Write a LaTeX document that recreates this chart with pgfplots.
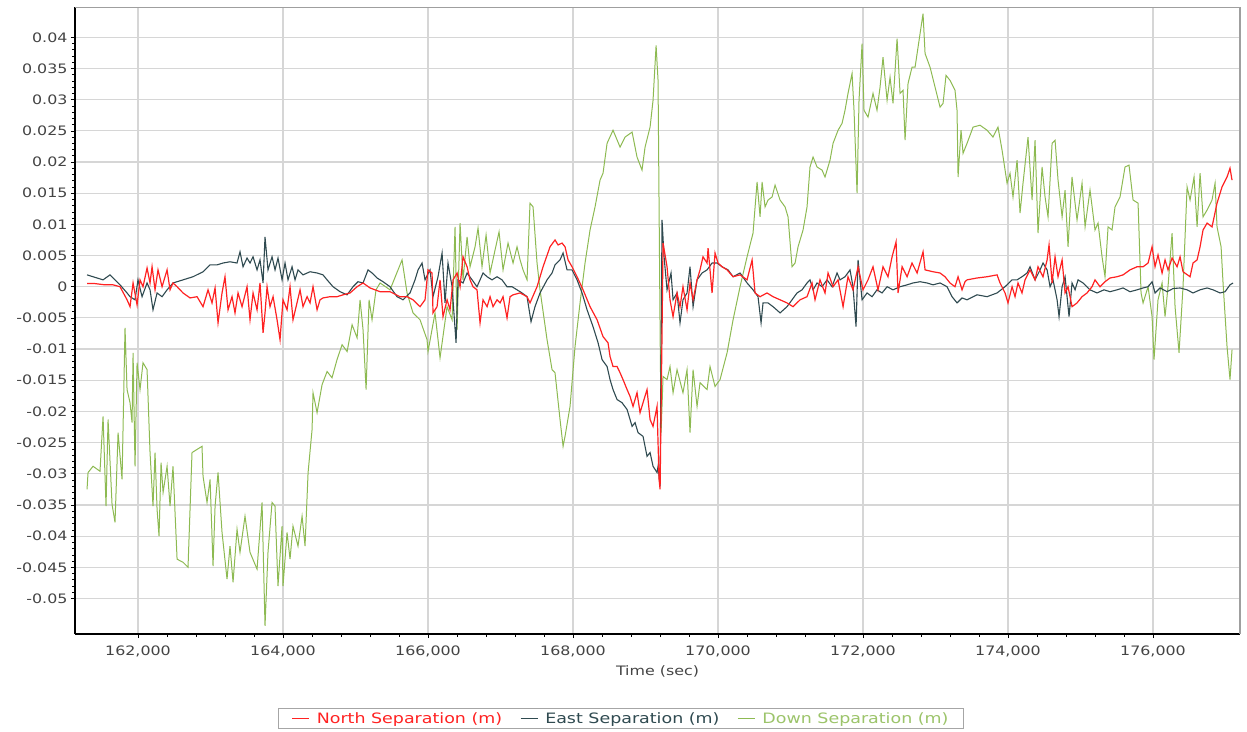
\documentclass[border=0pt]{standalone}
\usepackage{fontspec}
\setmainfont{DejaVu Sans}[FakeStretch=1.22]
\usepackage{pgfplots}
\pgfplotsset{compat=1.18}
\definecolor{northc}{HTML}{FF2222}
\definecolor{eastc}{HTML}{2F4A50}
\definecolor{downc}{HTML}{8DBA52}
\definecolor{downt}{HTML}{9CC46A}
\definecolor{labc}{HTML}{444444}
\definecolor{gridc}{HTML}{D6D6D6}
\begin{document}
\begin{tikzpicture}
\clip (-75pt,-97pt) rectangle (1172pt,634pt);
\begin{axis}[
  name=ax,
  at={(0pt,0pt)}, anchor=south west,
  scale only axis, width=1165pt, height=626.6pt,
  xmin=161131, xmax=177200, ymin=-0.0557, ymax=0.0448,
  axis x line*=bottom, axis y line*=left,
  axis line style={black, line width=2.2pt},
  xtick={162000,164000,166000,168000,170000,172000,174000,176000},
  xticklabels={{162,000},{164,000},{166,000},{168,000},{170,000},{172,000},{174,000},{176,000}},
  ytick={-0.05,-0.045,-0.04,-0.035,-0.03,-0.025,-0.02,-0.015,-0.01,-0.005,0,0.005,0.01,0.015,0.02,0.025,0.03,0.035,0.04},
  yticklabels={-0.05,-0.045,-0.04,-0.035,-0.03,-0.025,-0.02,-0.015,-0.01,-0.005,0,0.005,0.01,0.015,0.02,0.025,0.03,0.035,0.04},
  scaled x ticks=false, scaled y ticks=false,
  minor x tick num=4, minor y tick num=4,
  tick align=outside, major tick length=4pt, minor tick length=2.5pt,
  tick style={black, line width=0.6pt},
  grid=major, major grid style={draw=gridc, line width=1.2pt},
  tick label style={font=\fontsize{13}{15}\selectfont, text=labc},
  xticklabel style={yshift=-4pt},
  xlabel={Time (sec)},
  xlabel style={font=\fontsize{13}{15}\selectfont, text=labc, yshift=-2pt},
  reverse legend,
  legend columns=3,
  legend image code/.code={\draw[#1] (0pt,0pt) -- (17pt,0pt);},
  legend style={at={(0.4687,-0.1181)}, anchor=north, draw=gray!70, line width=0.8pt,
    font=\fontsize{14.3}{16}\selectfont, inner xsep=13pt, inner ysep=2pt,
    /tikz/every odd column/.append style={column sep=5pt},
    /tikz/every even column/.append style={column sep=16pt}},
]
\addplot[downc, line width=1pt] coordinates {
(161297,-0.0325)(161311,-0.0298)(161380,-0.0288)(161476,-0.0296)(161518,-0.0208)(161559,-0.0352)(161587,-0.0213)(161642,-0.0349)(161683,-0.0378)(161725,-0.0234)(161780,-0.0309)(161821,-0.0066)(161849,-0.0165)(161890,-0.0186)(161918,-0.0218)(161932,-0.0106)(161959,-0.0288)(161987,-0.0122)(162028,-0.0165)(162069,-0.0122)(162125,-0.0133)(162166,-0.0266)(162207,-0.0352)(162235,-0.0266)(162263,-0.0357)(162290,-0.0400)(162318,-0.0282)(162346,-0.0330)(162401,-0.0288)(162442,-0.0352)(162483,-0.0288)(162539,-0.0437)(162621,-0.0442)(162690,-0.0450)(162745,-0.0266)(162814,-0.0261)(162883,-0.0256)(162897,-0.0304)(162952,-0.0346)(162994,-0.0309)(163035,-0.0448)(163063,-0.0352)(163104,-0.0298)(163159,-0.0394)(163228,-0.0469)(163269,-0.0416)(163311,-0.0474)(163366,-0.0389)(163407,-0.0426)(163476,-0.0368)(163545,-0.0426)(163642,-0.0453)(163711,-0.0346)(163752,-0.0544)(163793,-0.0426)(163849,-0.0346)(163890,-0.0352)(163931,-0.0480)(163987,-0.0384)(164000,-0.0480)(164056,-0.0394)(164097,-0.0437)(164138,-0.0384)(164207,-0.0416)(164263,-0.0368)(164304,-0.0416)(164346,-0.0298)(164401,-0.0229)(164414,-0.0170)(164470,-0.0202)(164539,-0.0157)(164608,-0.0136)(164676,-0.0146)(164745,-0.0117)(164815,-0.0093)(164884,-0.0104)(164953,-0.0061)(165022,-0.0082)(165063,-0.0021)(165104,-0.0069)(165146,-0.0165)(165187,-0.0021)(165228,-0.0053)(165283,-0.0005)(165339,0.0006)(165476,-0.0005)(165642,0.0043)(165711,-0.0010)(165793,-0.0042)(165890,-0.0053)(165987,-0.0085)(166000,-0.0104)(166097,-0.0042)(166166,-0.0114)(166263,-0.0032)(166332,-0.0053)(166373,0.0096)(166401,-0.0069)(166442,0.0102)(166483,0.0011)(166539,0.0080)(166580,0.0032)(166649,0.0064)(166690,0.0094)(166745,0.0032)(166801,0.0083)(166856,0.0022)(166925,0.0059)(166980,0.0088)(167035,0.0027)(167104,0.0070)(167173,0.0038)(167228,0.0064)(167270,0.0043)(167311,0.0027)(167366,0.0011)(167407,0.0134)(167449,0.0128)(167504,0.0038)(167545,-0.0005)(167642,-0.0085)(167711,-0.0133)(167752,-0.0138)(167821,-0.0213)(167863,-0.0256)(167890,-0.0240)(167959,-0.0192)(168028,-0.0096)(168097,-0.0026)(168166,0.0038)(168235,0.0091)(168304,0.0128)(168373,0.0171)(168414,0.0182)(168470,0.0230)(168552,0.0251)(168649,0.0224)(168718,0.0240)(168815,0.0248)(168883,0.0208)(168952,0.0187)(168994,0.0224)(169063,0.0256)(169104,0.0299)(169146,0.0387)(169173,0.0331)(169201,-0.0069)(169215,-0.0234)(169242,-0.0144)(169297,-0.0149)(169338,-0.0128)(169380,-0.0170)(169435,-0.0133)(169517,-0.0170)(169573,-0.0133)(169614,-0.0234)(169656,-0.0133)(169711,-0.0192)(169752,-0.0154)(169849,-0.0165)(169890,-0.0128)(169959,-0.0160)(170028,-0.0149)(170125,-0.0106)(170208,-0.0053)(170304,0.0000)(170401,0.0048)(170483,0.0086)(170539,0.0168)(170580,0.0112)(170608,0.0168)(170649,0.0128)(170690,0.0139)(170746,0.0144)(170787,0.0163)(170856,0.0139)(170925,0.0128)(170966,0.0112)(171021,0.0032)(171063,0.0038)(171104,0.0064)(171173,0.0091)(171228,0.0128)(171269,0.0192)(171311,0.0208)(171366,0.0192)(171435,0.0187)(171476,0.0176)(171545,0.0203)(171587,0.0230)(171656,0.0251)(171711,0.0262)(171752,0.0283)(171793,0.0310)(171849,0.0342)(171876,0.0283)(171918,0.0150)(171945,0.0299)(171987,0.0390)(172014,0.0283)(172069,0.0272)(172138,0.0310)(172193,0.0283)(172235,0.0320)(172276,0.0368)(172332,0.0299)(172373,0.0336)(172414,0.0294)(172470,0.0398)(172511,0.0310)(172552,0.0315)(172580,0.0235)(172621,0.0326)(172676,0.0352)(172718,0.0352)(172759,0.0384)(172828,0.0438)(172856,0.0374)(172925,0.0352)(172994,0.0320)(173063,0.0288)(173104,0.0294)(173145,0.0339)(173200,0.0331)(173269,0.0315)(173297,0.0283)(173311,0.0176)(173352,0.0251)(173380,0.0214)(173435,0.0230)(173518,0.0256)(173614,0.0259)(173711,0.0251)(173793,0.0240)(173862,0.0256)(173918,0.0219)(173987,0.0166)(174028,0.0182)(174069,0.0144)(174125,0.0203)(174166,0.0118)(174207,0.0166)(174276,0.0240)(174332,0.0139)(174373,0.0235)(174414,0.0086)(174470,0.0192)(174511,0.0144)(174552,0.0112)(174608,0.0230)(174649,0.0235)(174690,0.0171)(174746,0.0112)(174787,0.0155)(174828,0.0064)(174883,0.0176)(174952,0.0107)(175021,0.0166)(175063,0.0096)(175131,0.0155)(175200,0.0091)(175242,0.0102)(175297,0.0048)(175338,0.0016)(175380,0.0096)(175435,0.0091)(175476,0.0128)(175545,0.0144)(175614,0.0192)(175669,0.0195)(175725,0.0139)(175794,0.0134)(175835,-0.0010)(175863,-0.0026)(175932,0.0000)(175987,-0.0048)(176014,-0.0117)(176069,-0.0021)(176125,0.0006)(176166,-0.0048)(176207,0.0000)(176263,0.0086)(176304,-0.0032)(176359,-0.0106)(176414,0.0000)(176470,0.0160)(176511,0.0139)(176566,0.0176)(176608,0.0096)(176649,0.0182)(176690,0.0112)(176746,0.0123)(176814,0.0139)(176856,0.0166)(176883,0.0096)(176939,0.0064)(176966,0.0006)(177021,-0.0096)(177062,-0.0149)(177090,-0.0101)
};
\addlegendentry{\textcolor{downt}{Down Separation (m)}}
\addplot[eastc, line width=1.1pt] coordinates {
(161297,0.0019)(161435,0.0014)(161518,0.0011)(161614,0.0019)(161656,0.0014)(161752,0.0003)(161849,-0.0010)(161890,-0.0016)(161959,-0.0021)(162000,0.0011)(162056,-0.0016)(162125,0.0006)(162166,-0.0005)(162207,-0.0037)(162263,-0.0010)(162332,-0.0016)(162401,-0.0005)(162483,0.0006)(162621,0.0011)(162759,0.0016)(162897,0.0024)(162994,0.0035)(163090,0.0035)(163173,0.0038)(163269,0.0040)(163366,0.0038)(163407,0.0056)(163449,0.0032)(163504,0.0046)(163545,0.0038)(163587,0.0048)(163642,0.0027)(163683,0.0043)(163725,0.0006)(163752,0.0080)(163793,0.0027)(163849,0.0048)(163890,0.0027)(163931,0.0046)(163987,0.0011)(164028,0.0038)(164069,0.0011)(164125,0.0032)(164166,0.0011)(164207,0.0027)(164276,0.0019)(164373,0.0024)(164470,0.0022)(164552,0.0019)(164608,0.0011)(164690,0.0000)(164787,-0.0008)(164884,-0.0013)(164966,0.0000)(165035,0.0008)(165104,0.0006)(165173,0.0027)(165228,0.0022)(165297,0.0014)(165380,0.0008)(165476,0.0000)(165573,-0.0016)(165656,-0.0021)(165752,-0.0010)(165821,0.0011)(165863,0.0027)(165918,0.0038)(165959,0.0011)(166028,0.0027)(166069,-0.0016)(166138,0.0016)(166194,0.0054)(166235,-0.0026)(166276,0.0038)(166332,0.0000)(166387,-0.0090)(166414,0.0011)(166483,0.0006)(166539,0.0022)(166608,0.0011)(166676,0.0000)(166718,0.0011)(166759,0.0022)(166815,0.0016)(166883,0.0011)(166952,0.0016)(167021,0.0011)(167090,0.0000)(167159,0.0000)(167228,-0.0005)(167297,-0.0010)(167366,-0.0016)(167421,-0.0056)(167476,-0.0032)(167545,-0.0010)(167642,0.0011)(167711,0.0022)(167752,0.0035)(167821,0.0043)(167863,0.0054)(167918,0.0027)(167987,0.0027)(168056,0.0011)(168125,-0.0010)(168194,-0.0037)(168276,-0.0064)(168346,-0.0090)(168401,-0.0117)(168470,-0.0128)(168511,-0.0149)(168552,-0.0165)(168608,-0.0181)(168676,-0.0186)(168746,-0.0197)(168815,-0.0224)(168856,-0.0218)(168897,-0.0234)(168966,-0.0240)(169021,-0.0272)(169063,-0.0266)(169104,-0.0288)(169159,-0.0298)(169173,-0.0288)(169201,-0.0320)(169228,0.0107)(169256,0.0048)(169297,-0.0005)(169352,0.0022)(169380,-0.0021)(169435,-0.0010)(169476,-0.0058)(169517,-0.0021)(169573,-0.0010)(169614,0.0032)(169656,-0.0032)(169711,0.0011)(169780,0.0022)(169849,0.0027)(169918,0.0038)(169987,0.0038)(170056,0.0032)(170139,0.0027)(170208,0.0016)(170304,0.0022)(170401,0.0006)(170483,-0.0005)(170552,-0.0016)(170594,-0.0058)(170621,-0.0026)(170690,-0.0026)(170759,-0.0032)(170856,-0.0042)(170952,-0.0032)(171021,-0.0021)(171090,-0.0010)(171159,-0.0005)(171228,0.0006)(171269,0.0011)(171311,-0.0005)(171366,0.0006)(171435,0.0000)(171504,0.0011)(171573,0.0000)(171642,0.0022)(171683,0.0011)(171752,0.0016)(171821,0.0027)(171862,0.0000)(171904,-0.0064)(171932,0.0043)(171987,-0.0021)(172056,-0.0010)(172125,-0.0016)(172193,-0.0005)(172263,-0.0010)(172332,0.0000)(172414,-0.0005)(172511,0.0000)(172608,0.0003)(172690,0.0006)(172787,0.0008)(172883,0.0006)(172966,0.0003)(173063,0.0006)(173159,0.0000)(173228,-0.0016)(173297,-0.0026)(173366,-0.0018)(173435,-0.0021)(173573,-0.0013)(173711,-0.0016)(173849,-0.0010)(173959,0.0000)(174056,0.0011)(174125,0.0011)(174193,0.0016)(174263,0.0022)(174304,0.0032)(174373,0.0011)(174442,0.0027)(174483,0.0038)(174539,0.0027)(174580,0.0000)(174621,0.0011)(174677,-0.0021)(174704,-0.0048)(174746,0.0000)(174787,0.0016)(174842,-0.0048)(174883,0.0006)(174925,-0.0005)(174966,0.0011)(175035,0.0006)(175131,-0.0005)(175228,-0.0010)(175324,-0.0005)(175407,-0.0008)(175504,-0.0005)(175587,-0.0002)(175683,-0.0008)(175780,-0.0005)(175863,-0.0002)(175932,0.0000)(175987,0.0008)(176028,-0.0010)(176097,-0.0002)(176194,-0.0008)(176276,-0.0003)(176373,-0.0002)(176470,-0.0005)(176552,-0.0010)(176649,-0.0005)(176746,-0.0002)(176828,-0.0005)(176925,-0.0010)(176994,-0.0008)(177062,0.0003)(177104,0.0006)
};
\addlegendentry{\textcolor{eastc}{East Separation (m)}}
\addplot[northc, line width=1.2pt] coordinates {
(161297,0.0005)(161407,0.0005)(161545,0.0003)(161656,0.0003)(161752,0.0000)(161849,-0.0021)(161890,-0.0032)(161932,0.0006)(161987,-0.0029)(162028,0.0011)(162069,0.0000)(162125,0.0030)(162166,0.0006)(162194,0.0032)(162235,-0.0005)(162276,0.0027)(162332,0.0000)(162401,0.0027)(162442,-0.0005)(162483,0.0006)(162539,0.0000)(162621,-0.0010)(162718,-0.0018)(162814,-0.0016)(162897,-0.0032)(162966,-0.0005)(163021,-0.0026)(163063,-0.0002)(163104,-0.0058)(163159,-0.0010)(163200,0.0016)(163242,-0.0037)(163297,-0.0016)(163338,-0.0042)(163380,-0.0010)(163435,-0.0032)(163504,0.0000)(163545,-0.0053)(163587,-0.0010)(163642,-0.0037)(163683,0.0006)(163725,-0.0074)(163752,-0.0042)(163780,0.0000)(163821,-0.0032)(163863,-0.0016)(163918,-0.0053)(163959,-0.0085)(164000,-0.0021)(164056,-0.0037)(164097,0.0000)(164138,-0.0053)(164193,-0.0026)(164235,-0.0005)(164276,-0.0032)(164332,-0.0016)(164373,-0.0026)(164414,0.0000)(164470,-0.0037)(164511,-0.0021)(164552,-0.0018)(164649,-0.0016)(164746,-0.0016)(164829,-0.0013)(164925,-0.0010)(165022,0.0000)(165104,0.0006)(165201,-0.0002)(165339,-0.0008)(165476,-0.0008)(165614,-0.0016)(165711,-0.0016)(165793,-0.0021)(165890,-0.0032)(165959,-0.0021)(166000,0.0027)(166056,0.0022)(166069,-0.0042)(166125,-0.0032)(166166,0.0011)(166207,-0.0048)(166263,-0.0021)(166304,-0.0037)(166346,0.0011)(166401,0.0022)(166442,0.0000)(166483,0.0048)(166539,0.0032)(166580,0.0011)(166621,0.0000)(166676,-0.0005)(166718,-0.0058)(166759,-0.0021)(166815,-0.0032)(166856,-0.0016)(166897,-0.0032)(166952,-0.0021)(166994,-0.0026)(167035,-0.0016)(167090,-0.0050)(167132,-0.0016)(167173,-0.0013)(167270,-0.0010)(167366,-0.0016)(167407,-0.0026)(167504,0.0000)(167587,0.0032)(167683,0.0064)(167752,0.0075)(167794,0.0067)(167849,0.0070)(167890,0.0064)(167932,0.0043)(167987,0.0032)(168056,0.0016)(168139,-0.0005)(168235,-0.0032)(168332,-0.0053)(168414,-0.0080)(168483,-0.0090)(168511,-0.0112)(168552,-0.0128)(168608,-0.0128)(168649,-0.0138)(168690,-0.0149)(168746,-0.0165)(168787,-0.0176)(168828,-0.0192)(168883,-0.0170)(168925,-0.0202)(168966,-0.0186)(169021,-0.0165)(169063,-0.0213)(169104,-0.0224)(169159,-0.0192)(169187,-0.0309)(169201,-0.0325)(169228,-0.0074)(169242,0.0070)(169297,0.0032)(169338,-0.0021)(169380,-0.0048)(169435,-0.0010)(169476,-0.0032)(169517,0.0000)(169573,-0.0037)(169614,0.0006)(169656,-0.0021)(169711,0.0011)(169752,0.0027)(169793,0.0048)(169849,0.0038)(169863,0.0062)(169918,-0.0010)(169959,0.0054)(170000,0.0038)(170056,0.0032)(170125,0.0027)(170208,0.0016)(170304,0.0019)(170401,0.0011)(170470,0.0043)(170511,-0.0010)(170580,-0.0016)(170676,-0.0010)(170759,-0.0016)(170856,-0.0021)(170952,-0.0026)(171035,-0.0032)(171132,-0.0021)(171228,-0.0016)(171297,0.0006)(171338,-0.0021)(171407,0.0011)(171476,-0.0010)(171518,0.0022)(171587,0.0000)(171656,0.0011)(171725,-0.0032)(171793,0.0016)(171862,-0.0005)(171932,0.0032)(172000,-0.0005)(172069,0.0011)(172138,0.0032)(172207,-0.0005)(172276,0.0032)(172345,0.0016)(172401,0.0048)(172456,0.0072)(172483,-0.0010)(172539,0.0032)(172608,0.0016)(172676,0.0038)(172746,0.0022)(172828,0.0056)(172856,0.0027)(172966,0.0024)(173063,0.0022)(173131,0.0016)(173200,0.0006)(173269,0.0000)(173311,0.0016)(173366,-0.0005)(173407,0.0008)(173435,0.0011)(173573,0.0014)(173711,0.0016)(173849,0.0019)(173890,0.0006)(173959,-0.0010)(174000,-0.0026)(174056,0.0000)(174097,-0.0016)(174138,0.0006)(174193,-0.0010)(174235,0.0011)(174304,0.0027)(174373,0.0011)(174414,0.0032)(174483,0.0016)(174539,0.0043)(174566,0.0067)(174608,0.0006)(174649,0.0048)(174690,0.0016)(174746,0.0043)(174787,-0.0010)(174828,0.0000)(174883,-0.0032)(174952,-0.0026)(175021,-0.0016)(175090,-0.0010)(175159,0.0000)(175200,0.0011)(175269,0.0000)(175338,0.0008)(175407,0.0014)(175504,0.0016)(175587,0.0019)(175683,0.0027)(175780,0.0032)(175863,0.0032)(175932,0.0038)(175987,0.0064)(176028,0.0032)(176069,0.0051)(176125,0.0022)(176166,0.0043)(176207,0.0027)(176263,0.0046)(176332,0.0032)(176373,0.0048)(176414,0.0024)(176511,0.0016)(176552,0.0038)(176608,0.0043)(176649,0.0064)(176690,0.0091)(176746,0.0102)(176814,0.0096)(176883,0.0134)(176952,0.0160)(177021,0.0176)(177062,0.0190)(177090,0.0171)
};
\addlegendentry{\textcolor{northc}{North Separation (m)}}
\end{axis}
\draw[gray!75, line width=1.2pt] (ax.north west) -- (ax.north east) -- (ax.south east);
\end{tikzpicture}
\end{document}
